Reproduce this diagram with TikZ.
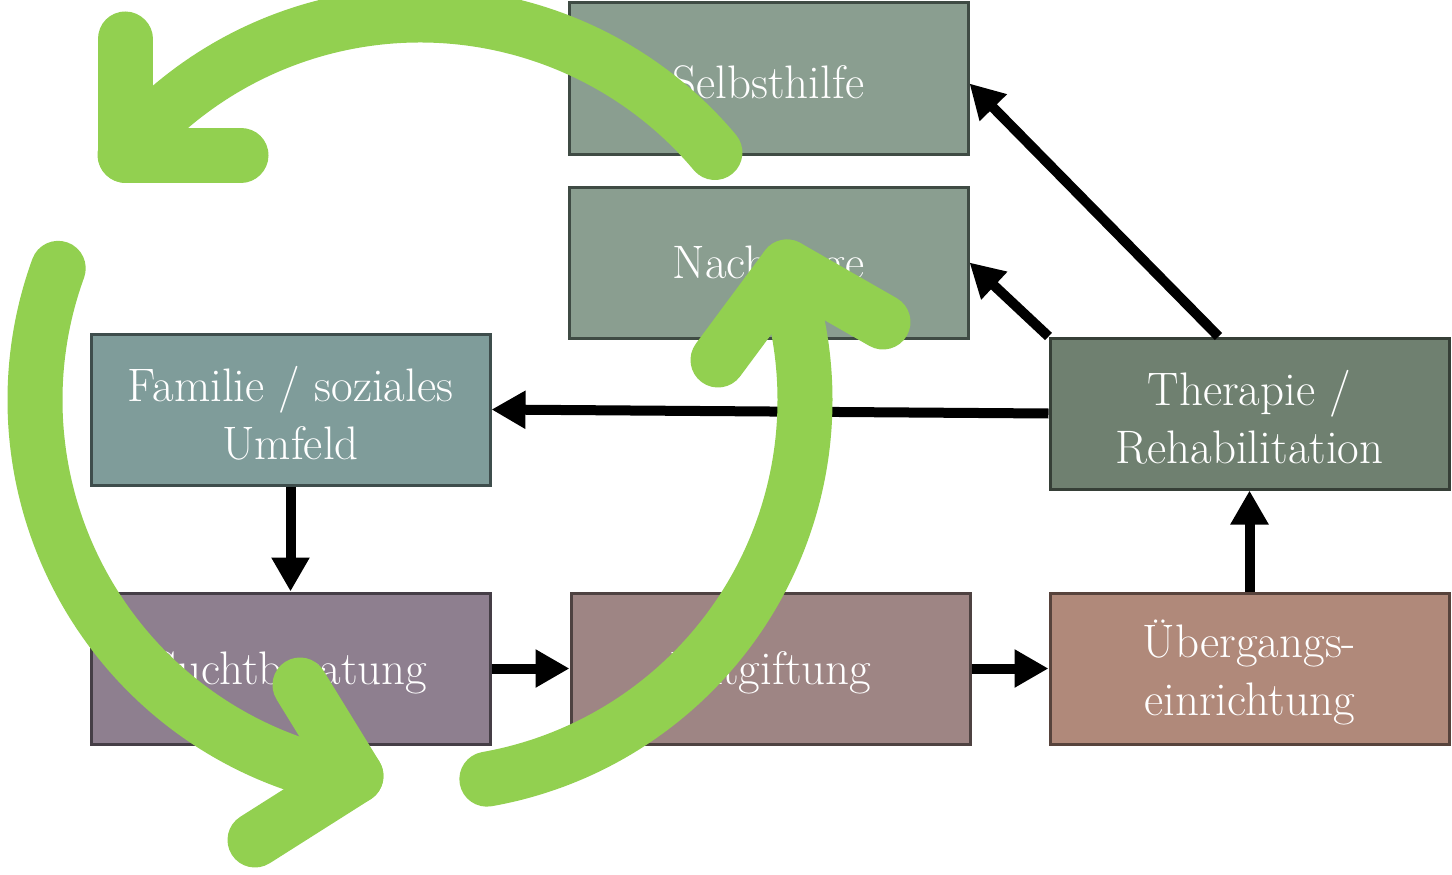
\documentclass[tikz,border=0pt]{standalone}
\usepackage{fontspec}
\usetikzlibrary{arrows.meta,calc}

\definecolor{selbfill}{HTML}{8A9E90}
\definecolor{selbline}{HTML}{3F4B44}
\definecolor{famfill}{HTML}{7F9C9A}
\definecolor{famline}{HTML}{3E4D4C}
\definecolor{therfill}{HTML}{6F8070}
\definecolor{therline}{HTML}{363F37}
\definecolor{suchfill}{HTML}{8E7F8F}
\definecolor{suchline}{HTML}{453E46}
\definecolor{entfill}{HTML}{9E8584}
\definecolor{entline}{HTML}{4E4241}
\definecolor{uebfill}{HTML}{B0897A}
\definecolor{uebline}{HTML}{57433C}
\definecolor{cycgreen}{HTML}{92D050}

\begin{document}
\begin{tikzpicture}[x=1pt,y=-1pt,
  box/.style={draw, line width=3pt, minimum width=399pt, minimum height=151pt,
    inner sep=0pt},
  lbl/.style={text=white, align=center, inner sep=0pt, yshift=-4pt,
    font=\fontsize{47}{58}\selectfont},
  flow/.style={line width=10pt, -{Triangle[length=34pt,width=36pt]}},
  cyc/.style={line width=55pt, draw=cycgreen, line cap=round, line join=round}]
\useasboundingbox (0,0) rectangle (1452,875);

% stations of the care chain
\node[box, fill=selbfill, draw=selbline, label={[lbl]center:Selbsthilfe}] (selbst) at (768.5,78.5) {};
\node[box, fill=selbfill, draw=selbline, label={[lbl]center:Nachsorge}] (nach) at (768.5,262.5) {};
\node[box, fill=famfill, draw=famline, label={[lbl]center:Familie / soziales\\Umfeld}] (fam) at (290.5,409.5) {};
\node[box, fill=therfill, draw=therline, label={[lbl]center:Therapie /\\Rehabilitation}] (ther) at (1249.5,413.5) {};
\node[box, fill=suchfill, draw=suchline, label={[lbl]center:Suchtberatung}] (sucht) at (290.5,668.5) {};
\node[box, fill=entfill, draw=entline, label={[lbl]center:Entgiftung}] (entg) at (770.5,668.5) {};
\node[box, fill=uebfill, draw=uebline, label={[lbl]center:Übergangs-\\einrichtung}] (ueb) at (1249.5,668.5) {};

% transitions between the stations
\draw[flow] (fam.south) -- (sucht.north);
\draw[flow] (sucht.east) -- (entg.west);
\draw[flow] (entg.east) -- (ueb.west);
\draw[flow] (ueb.north) -- (ther.south);
\draw[flow] (ther.west) -- (fam.east);
\draw[flow] (ther.north west) -- (nach.east);
\draw[flow] ([xshift=-31pt]ther.north) -- ([yshift=-5pt]selbst.east);

% circular arrows of the cycle: arc, then an open chevron at its tip
\coordinate (cc) at (420,400);
\coordinate (t1) at (125,155);
\coordinate (a1) at (125,39);
\coordinate (b1) at (241,155);
\coordinate (t2) at (356,776);
\coordinate (a2) at (300,685);
\coordinate (b2) at (255,840);
\coordinate (t3) at (787,267);
\coordinate (a3) at (718,360);
\coordinate (b3) at (883,322);

\draw[cyc] ($(cc)+(-40:385)$) arc[start angle=-40, end angle=-139, radius=385] -- (t1);
\draw[cyc] (a1) -- (t1) -- (b1);
\draw[cyc] ($(cc)+(-160:385)$) arc[start angle=-160, end angle=-258, radius=385] -- (t2);
\draw[cyc] (a2) -- (t2) -- (b2);
\draw[cyc] ($(cc)+(-280:385)$) arc[start angle=-280, end angle=-378, radius=385] -- (t3);
\draw[cyc] (a3) -- (t3) -- (b3);
\end{tikzpicture}
\end{document}
